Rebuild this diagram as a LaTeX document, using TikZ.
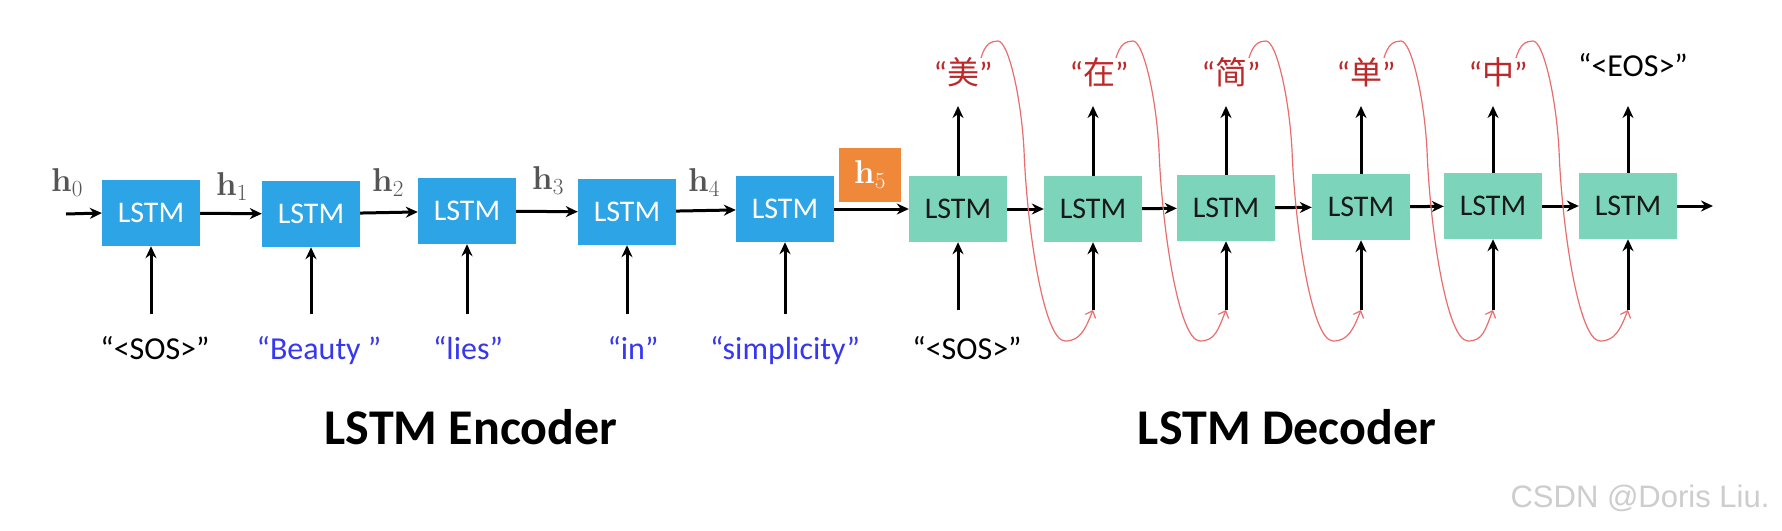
\RequirePackage{fix-cm}
\documentclass[tikz,border=0pt]{standalone}
\usepackage[no-math]{fontspec}
\setmainfont{Carlito}
\newfontfamily\cjk{Noto Sans CJK SC}
\newfontfamily\wmfont{Liberation Sans}
\usetikzlibrary{arrows.meta}
\definecolor{encblue}{RGB}{45,164,230}
\definecolor{decteal}{RGB}{124,213,186}
\definecolor{horange}{RGB}{240,136,58}
\definecolor{wordblue}{RGB}{55,55,240}
\definecolor{zhred}{RGB}{190,40,40}
\definecolor{curvered}{RGB}{232,110,110}
\definecolor{hgray}{RGB}{85,85,85}
\definecolor{wmgray}{RGB}{205,205,205}
\begin{document}
\begin{tikzpicture}[x=1pt,y=-1pt,
  encbox/.style={fill=encblue, minimum width=98pt, minimum height=66pt, inner sep=0pt, text=white, font=\fontsize{30}{32}\selectfont},
  decbox/.style={fill=decteal, minimum width=98pt, minimum height=66pt, inner sep=0pt, text=black!90, font=\fontsize{30}{32}\selectfont},
  arr/.style={line width=3pt, -{Stealth[length=12pt,width=11pt]}},
  redc/.style={draw=curvered, line width=1.2pt, -{Straight Barb[length=6pt,width=11pt]}},
  word/.style={anchor=base, inner sep=0pt, font=\fontsize{32}{36}\selectfont},
  hlab/.style={text=hgray, inner sep=0pt, font=\fontsize{33}{36}\selectfont},
  title/.style={anchor=base, inner sep=0pt, font=\fontsize{50}{56}\selectfont\bfseries}
]
\fill[white] (0,0) rectangle (1782,530);
\useasboundingbox (0,0) rectangle (1782,530);

% encoder boxes
\node[encbox] (e1) at (151,213) {LSTM};
\node[encbox] (e2) at (311,214) {LSTM};
\node[encbox] (e3) at (467,211) {LSTM};
\node[encbox] (e4) at (627,212) {LSTM};
\node[encbox] (e5) at (785,209) {LSTM};
% decoder boxes
\node[decbox] (d1) at (958,209) {LSTM};
\node[decbox] (d2) at (1093,209) {LSTM};
\node[decbox] (d3) at (1226,208) {LSTM};
\node[decbox] (d4) at (1361,207) {LSTM};
\node[decbox] (d5) at (1493,206) {LSTM};
\node[decbox] (d6) at (1628,206) {LSTM};

% hidden state labels
\node[hlab] (h0) at (67,183) {$\mathbf{h}_0$};
\node[hlab] (h1) at (232,187) {$\mathbf{h}_1$};
\node[hlab] (h2) at (388,183) {$\mathbf{h}_2$};
\node[hlab] (h3) at (548,181) {$\mathbf{h}_3$};
\node[hlab] (h4) at (704,183) {$\mathbf{h}_4$};
\node[fill=horange, minimum width=62pt, minimum height=54pt, inner sep=0pt, text=white, font=\fontsize{33}{36}\selectfont] (h5) at (870,175) {$\mathbf{h}_5$};

% horizontal arrows
\coordinate (hstart) at (66,214);
\coordinate (dend) at (1713,206);
\draw[arr] (hstart) -- (e1.west);
\draw[arr] (e1) -- (e2);
\draw[arr] (e2) -- (e3);
\draw[arr] (e3) -- (e4);
\draw[arr] (e4) -- (e5);
\draw[arr] (e5) -- (d1);
\draw[arr] (d1) -- (d2);
\draw[arr] (d2) -- (d3);
\draw[arr] (d3) -- (d4);
\draw[arr] (d4) -- (d5);
\draw[arr] (d5) -- (d6);
\draw[arr] (d6.east) -- (dend);

% encoder inputs
\foreach \i/\x in {1/151,2/311,3/467,4/627,5/785}{
  \coordinate (ein\i) at (\x,314);
  \draw[arr] (ein\i) -- (e\i.south);
}
\node[word] (w1) at (155,359) {“<SOS>”};
\node[word, text=wordblue] (w2) at (319,359) {“Beauty ”};
\node[word, text=wordblue] (w3) at (468,359) {“lies”};
\node[word, text=wordblue] (w4) at (633,359) {“in”};
\node[word, text=wordblue] (w5) at (785,359) {“simplicity”};

% decoder inputs
\foreach \i/\x in {1/958,2/1093,3/1226,4/1361,5/1493,6/1628}{
  \coordinate (din\i) at (\x,310);
  \draw[arr] (din\i) -- (d\i.south);
  \coordinate (dout\i) at (\x,106);
  \draw[arr] (d\i.north) -- (dout\i);
}
\node[word] (v1) at (967,359) {“<SOS>”};

% decoder outputs
\node[word, text=zhred] (o1) at (963,84) {“{\cjk 美}”};
\node[word, text=zhred] (o2) at (1099,84) {“{\cjk 在}”};
\node[word, text=zhred] (o3) at (1231,84) {“{\cjk 简}”};
\node[word, text=zhred] (o4) at (1366,84) {“{\cjk 单}”};
\node[word, text=zhred] (o5) at (1498,84) {“{\cjk 中}”};
\node[word] (o6) at (1633,76) {“<EOS>”};

% feedback curves
\foreach \i/\j/\a/\b in {1/2/958/1093,2/3/1093/1226,3/4/1226/1361,4/5/1361/1493,5/6/1493/1628}{
  \coordinate (rs\i) at ({\a+23},58);
  \draw[redc] (rs\i) .. controls ({\a+27},44) and ({\a+33},41) .. ({\a+40},41)
     .. controls ({\a+50},41) and ({\a+63},95) .. ({\a+66},150)
     .. controls ({\a+69},230) and ({\a+86},341) .. ({\a+107},341)
     .. controls ({\a+122},341) and ({\b-8},330) .. (din\j);
}

% titles
\node[title] (te) at (471,444) {LSTM Encoder};
\node[title] (td) at (1287,444) {LSTM Decoder};
\node[anchor=base, inner sep=0pt, text=wmgray, font=\wmfont\fontsize{31}{36}\selectfont] (wm) at (1640,507) {CSDN @Doris Liu.};
\end{tikzpicture}
\end{document}
